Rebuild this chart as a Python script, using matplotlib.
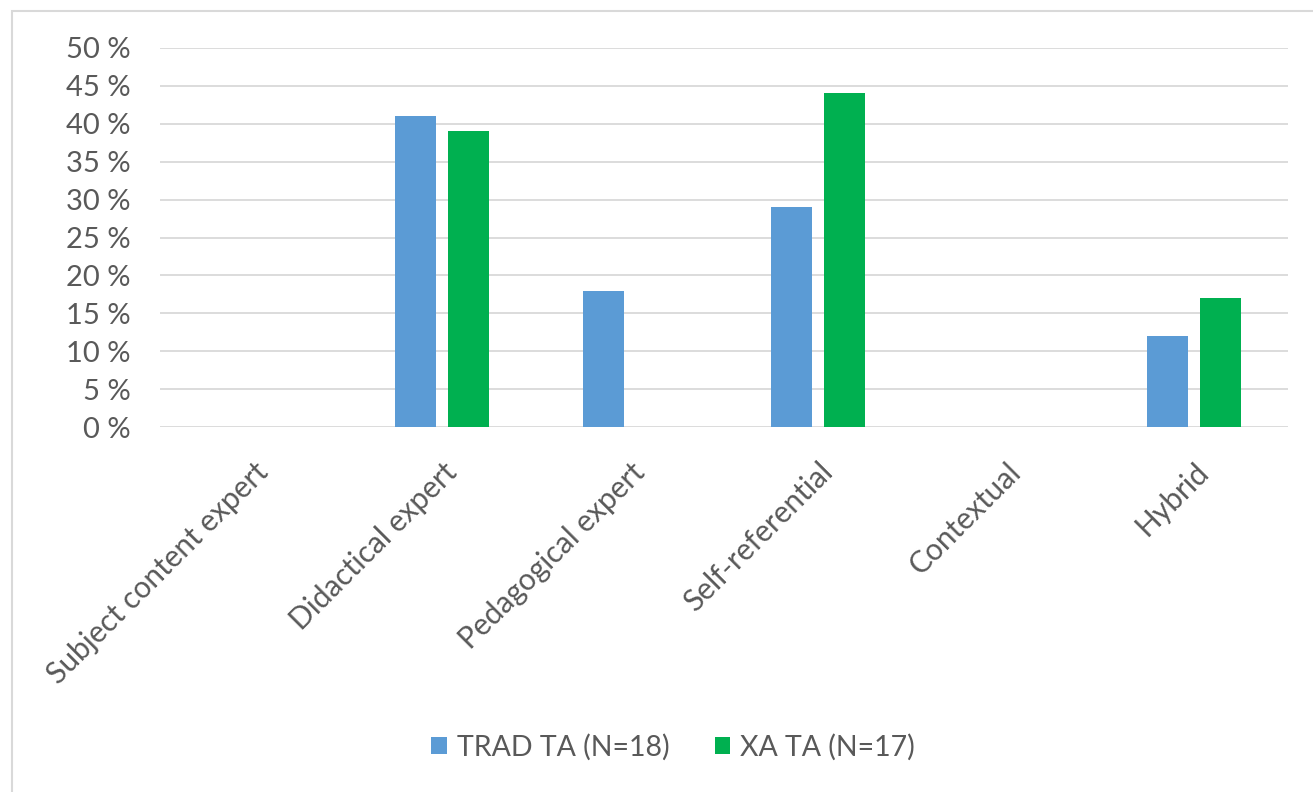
import matplotlib
matplotlib.use("Agg")
import matplotlib.pyplot as plt
from matplotlib.patches import Rectangle
import numpy as np

categories = ["Subject content expert", "Didactical expert", "Pedagogical expert",
              "Self-referential", "Contextual", "Hybrid"]
trad = [0, 41, 18, 29, 0, 12]
xa = [0, 39, 0, 44, 0, 17]
series_names = ["TRAD TA (N=18)", "XA TA (N=17)"]
yticks = [0, 5, 10, 15, 20, 25, 30, 35, 40, 45, 50]

plt.rcParams['font.family'] = ['Lato', 'DejaVu Sans']
W, H = 1313, 792
fig = plt.figure(figsize=(W/100, H/100), dpi=100)
ax = fig.add_axes([160/W, 1-427/H, (1288-160)/W, (427-48)/H])

x = np.arange(len(categories))
bw = 0.223
off = 0.141
ax.bar(x - off, trad, bw, color="#5B9BD5", label=series_names[0], zorder=3)
ax.bar(x + off, xa, bw, color="#00B050", label=series_names[1], zorder=3)

ax.set_xlim(-0.5, len(categories) - 0.5)
ax.set_ylim(0, 50)
ax.set_yticks(yticks)
ax.set_yticklabels([f"{v} %" for v in yticks])
ax.grid(axis="y", color="#d9d9d9", linewidth=1.3, zorder=0)
for s in ax.spines.values():
    s.set_visible(False)
ax.tick_params(axis="y", length=0, labelsize=21, colors="#595959", pad=21)
ax.set_xticks(x)
ax.set_xticklabels(categories, rotation=45, ha="right", rotation_mode="anchor")
ax.tick_params(axis="x", length=0, labelsize=21.5, colors="#595959", pad=22)

leg = fig.legend(loc="center", bbox_to_anchor=(673/W, 1-747/H), ncol=2, frameon=False,
                 fontsize=20.5, handlelength=0.55, handleheight=0.55, handletextpad=0.35,
                 columnspacing=1.6)
for t in leg.get_texts():
    t.set_color("#595959")

fig.patches.append(Rectangle((12/W, -0.1), 1.2, 1.1 - 11/H, transform=fig.transFigure,
                             fill=False, edgecolor="#d9d9d9", linewidth=1.5))

fig.savefig("out.png", dpi=100)
